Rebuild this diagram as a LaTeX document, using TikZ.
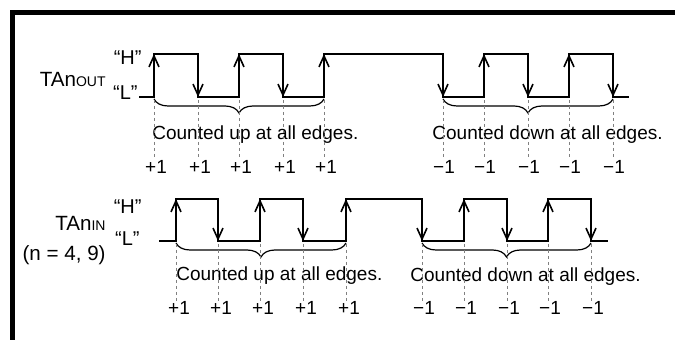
\documentclass[tikz,border=0pt]{standalone}
\usepackage{fontspec}
\setmainfont{Liberation Sans}
\usetikzlibrary{positioning, arrows.meta, decorations.pathreplacing}

\begin{document}
\begin{tikzpicture}[
        x=0.5pt, y=-0.5pt, % one unit is one pixel of the layout
        wave/.style={draw, line width=0.8pt},
        edge/.style={draw, line width=0.8pt, -{Straight Barb[length=5.5pt,width=5pt]}},
        guide/.style={draw, gray, line width=0.35pt, dash pattern=on 1.5pt off 1.5pt},
        bracedown/.style={draw, line width=0.6pt, decorate, decoration={brace, mirror, amplitude=7pt}},
        label/.style={inner sep=0pt, font=\fontsize{9.5}{11}\selectfont},
        level/.style={inner sep=0pt, anchor=east, font=\fontsize{10}{12}\selectfont},
        signal/.style={inner sep=0pt, anchor=east, font=\fontsize{10.3}{12}\selectfont}
    ]
    \useasboundingbox (0,0) rectangle (675,340);

    % Frame
    \draw[line width=2.5pt] (12.5,340) -- (12.5,12.5) -- (675,12.5);

    % Signal names
    \node[signal] (outname) at (106,79) {TAn{\fontsize{7}{8}\selectfont OUT}};
    \node[level] (outhigh) at (142,58) {“H”};
    \node[level] (outlow) at (138,93) {“L”};
    \node[signal] (inname) at (106,223) {TAn{\fontsize{7}{8}\selectfont IN}};
    \node[signal] (inparam) at (106,255) {(n = 4, 9)};
    \node[level] (inhigh) at (142,207) {“H”};
    \node[level] (inlow) at (140,239) {“L”};

    % TAnOUT waveform
    \draw[wave] (outlow.east) ++(1,4) coordinate (outstart) -| (154,54) -| (198,97) -| (239,54) -| (283,97) -| (324,54)
        -| (443,97) -| (484,54) -| (528,97) -| (569,54) -| (613,97) -- (629,97) coordinate (outend);
    \foreach \x in {154,239,324,484,569}
        \draw[edge] (\x,97) -- (\x,54);
    \foreach \x in {198,283,443,528,613}
        \draw[edge] (\x,54) -- (\x,97);

    % TAnIN waveform
    \draw[wave] (159,241) coordinate (instart) -| (176,199) -| (218,241) -| (260,199) -| (303,241) -| (346,199)
        -| (422,241) -| (464,199) -| (507,241) -| (548,199) -| (591,241) -- (608,241) coordinate (inend);
    \foreach \x in {176,260,346,464,548}
        \draw[edge] (\x,241) -- (\x,199);
    \foreach \x in {218,303,422,507,591}
        \draw[edge] (\x,199) -- (\x,241);

    % Braces
    \draw[bracedown] (154,99) -- (324,99);
    \draw[bracedown] (443,99) -- (613,99);
    \draw[bracedown] (176,243) -- (346,243);
    \draw[bracedown] (422,243) -- (591,243);

    \node[label, anchor=west] (outuptext) at (152,135) {Counted up at all edges.};
    \node[label, anchor=west] (outdowntext) at (432,135) {Counted down at all edges.};
    \node[label, anchor=west] (inuptext) at (176,276) {Counted up at all edges.};
    \node[label, anchor=west] (indowntext) at (410,277) {Counted down at all edges.};

    % Count marks
    \foreach \x [count=\i] in {154,198,239,283,324} {
        \draw[guide] (\x,100) -- (\x,160);
        \node[label] (outup\i) at (\x+2,167) {+1};
    }
    \foreach \x [count=\i] in {443,484,528,569,613} {
        \draw[guide] (\x,100) -- (\x,160);
        \node[label] (outdown\i) at (\x+1,167) {−1};
    }
    \foreach \x [count=\i] in {176,218,260,303,346} {
        \draw[guide] (\x,244) -- (\x,301);
        \node[label] (inup\i) at (\x+3,308) {+1};
    }
    \foreach \x [count=\i] in {422,464,507,548,591} {
        \draw[guide] (\x,244) -- (\x,301);
        \node[label] (indown\i) at (\x+2,308) {−1};
    }
\end{tikzpicture}
\end{document}
